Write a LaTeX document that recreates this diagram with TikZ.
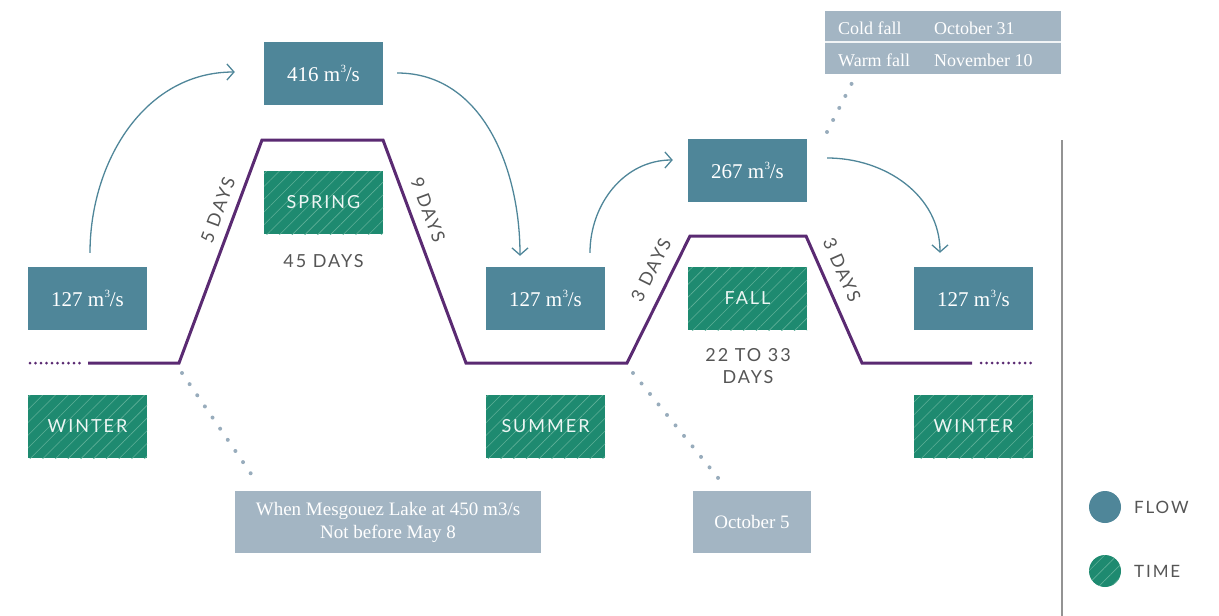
\documentclass[tikz,border=0pt]{standalone}
\usepackage{fontspec}
\setmainfont{Liberation Serif}
\newfontfamily\capsfont[LetterSpace=11]{Lato}
\usetikzlibrary{arrows.meta,patterns.meta}
\definecolor{flowc}{HTML}{4F8699}
\definecolor{timec}{HTML}{1E8A70}
\definecolor{hatchc}{HTML}{5FB098}
\definecolor{purp}{HTML}{5A2A72}
\definecolor{infoc}{HTML}{A3B5C3}
\definecolor{dotc}{HTML}{98ACBC}
\definecolor{graytext}{HTML}{555555}
\definecolor{arrc}{HTML}{4F8699}
\newcommand{\cubm}{m\kern0.5pt\raisebox{0.42em}{\fontsize{11}{11}\selectfont 3}\kern-0.3pt/s}
\tikzset{
  flowbox/.style={fill=flowc, minimum width=119pt, minimum height=63pt, inner sep=0pt,
    text=white, font=\fontsize{21}{24}\selectfont},
  timebox/.style={fill=timec, minimum width=119pt, minimum height=63pt, inner sep=0pt,
    postaction={pattern={Lines[angle=45,distance=9pt,line width=0.6pt]}, pattern color=hatchc},
    text=white!92!timec, font=\capsfont\fontsize{18}{20}\selectfont},
  infobox/.style={fill=infoc, inner sep=0pt, text=white, align=center,
    font=\fontsize{19}{23}\selectfont},
  daylabel/.style={text=graytext, font=\capsfont\fontsize{18}{22}\selectfont, align=center},
  flowarrow/.style={draw=arrc, line width=1.3pt, -{Straight Barb[length=7pt,width=16pt,line width=1.3pt]}},
  dotline/.style={draw=dotc, line width=4pt, line cap=round, dash pattern=on 0pt off 13.5pt},
  purpline/.style={draw=purp, line width=3pt, line join=miter},
  purpdots/.style={draw=purp, line width=3pt, line cap=round, dash pattern=on 0pt off 5.5pt},
  tabletext/.style={text=white, anchor=west, font=\fontsize{18}{20}\selectfont, inner sep=0pt},
  legendtext/.style={text=graytext, anchor=west, font=\capsfont\fontsize{17}{20}\selectfont, inner sep=0pt}
}
\begin{document}
\begin{tikzpicture}[x=1pt,y=1pt]
\useasboundingbox (0,0) rectangle (1219,-616);

% flow boxes
\node[flowbox] (f1) at (87.5,-298.5) {127 \cubm};
\node[flowbox] (f2) at (323.5,-73.5) {416 \cubm};
\node[flowbox] (f3) at (545.5,-298.5) {127 \cubm};
\node[flowbox] (f4) at (747.5,-170.5) {267 \cubm};
\node[flowbox] (f5) at (973.5,-298.5) {127 \cubm};

% time boxes
\node[timebox] (w1) at (87.5,-426.5) {WINTER};
\node[timebox] (sp) at (323.5,-202.5) {SPRING};
\node[timebox] (su) at (545.5,-426.5) {SUMMER};
\node[timebox] (fa) at (747.5,-298.5) {FALL};
\node[timebox] (w2) at (973.5,-426.5) {WINTER};

% durations
\node[daylabel] (d45) at (323.5,-261) {45 DAYS};
\node[daylabel] (d2233) at (748,-366) {22 TO 33\\DAYS};

% hydrograph
\coordinate (p0) at (88,-363);
\coordinate (p1) at (179,-363);
\coordinate (p2) at (262,-140);
\coordinate (p3) at (383,-140);
\coordinate (p4) at (466,-363);
\coordinate (p5) at (627,-363);
\coordinate (p6) at (690,-236);
\coordinate (p7) at (806,-236);
\coordinate (p8) at (862,-363);
\coordinate (p9) at (972,-363);
\draw[purpline] (p0) -- (p1) -- (p2) -- (p3) -- (p4) -- (p5) -- (p6) -- (p7) -- (p8) -- (p9);
\coordinate (ld0) at (30,-363);
\coordinate (ld1) at (80,-363);
\coordinate (rd0) at (981,-363);
\coordinate (rd1) at (1032,-363);
\draw[purpdots] (ld0) -- (ld1);
\draw[purpdots] (rd0) -- (rd1);

% slope labels
\node[daylabel, rotate=69.6] (s1) at (218,-210) {5 DAYS};
\node[daylabel, rotate=-69.6] (s2) at (428,-210) {9 DAYS};
\node[daylabel, rotate=63.6] (s3) at (651,-270) {3 DAYS};
\node[daylabel, rotate=-66.2] (s4) at (842,-270) {3 DAYS};

% flow arrows
\draw[flowarrow] ([shift={(2.5,14)}]f1.north) to[out=90,in=180] ([shift={(-29,1.5)}]f2.west);
\draw[flowarrow] ([shift={(14,0.5)}]f2.east) to[out=0,in=90] ([shift={(-25.5,11)}]f3.north);
\draw[flowarrow] ([shift={(44.5,14)}]f3.north) to[out=90,in=180] ([shift={(-15,10.5)}]f4.west);
\draw[flowarrow] ([shift={(20,12.5)}]f4.east) to[out=0,in=90] ([shift={(-33.5,14)}]f5.north);

% info boxes
\node[infobox, minimum width=306pt, minimum height=62pt] (i1) at (388,-522)
  {When Mesgouez Lake at 450 m3/s\\Not before May 8};
\node[infobox, minimum width=118pt, minimum height=62pt] (i2) at (752,-522) {October 5};
\node[fill=infoc, minimum width=236pt, minimum height=63pt, inner sep=0pt] (tb) at (943,-42.5) {};
\draw[white!85!infoc, line width=2pt] ([yshift=-31.5]tb.north west) -- ([yshift=-31.5]tb.north east);
\node[tabletext] (c1) at (838,-28) {Cold fall};
\node[tabletext] (c2) at (934,-28) {October 31};
\node[tabletext] (c3) at (838,-60) {Warm fall};
\node[tabletext] (c4) at (934,-60) {November 10};

% dotted leaders
\coordinate (a1) at (182,-373);
\coordinate (a2) at (258,-484);
\coordinate (b1) at (633,-373);
\coordinate (b2) at (723,-484);
\coordinate (c5) at (827,-132);
\coordinate (c6) at (853,-81);
\draw[dotline] (a1) -- (a2);
\draw[dotline] (b1) -- (b2);
\draw[dotline] (c5) -- (c6);

% separator
\coordinate (v1) at (1062,-140);
\coordinate (v2) at (1062,-616);
\draw[draw=gray!85, line width=2pt] (v1) -- (v2);

% legend
\node[circle, fill=flowc, minimum size=32pt, inner sep=0pt] (lf) at (1105,-507) {};
\node[circle, fill=timec, minimum size=32pt, inner sep=0pt,
  postaction={pattern={Lines[angle=45,distance=9pt,line width=0.6pt]}, pattern color=hatchc}] (lt) at (1105,-571) {};
\node[legendtext] (lft) at (1134,-507) {FLOW};
\node[legendtext] (ltt) at (1134,-571) {TIME};
\end{tikzpicture}
\end{document}
